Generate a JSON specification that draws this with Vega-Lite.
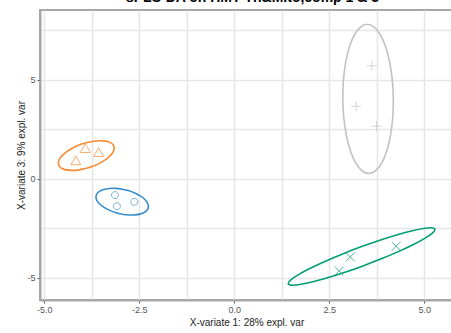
{
  "$schema": "https://vega.github.io/schema/vega-lite/v6.json",
  "width": 413,
  "height": 290,
  "autosize": {"type": "none"},
  "padding": {"left": 40, "top": 10, "right": -2, "bottom": 33},
  "background": "white",
  "title": {"text": "sPLS-DA on HMT Th&Mito,comp 1 & 3", "fontSize": 14, "fontWeight": "bold", "font": "Liberation Sans", "color": "#000000", "anchor": "middle", "dx": 6, "offset": 5},
  "config": {
    "view": {"stroke": "#a6a6a6", "strokeWidth": 2},
    "font": "Liberation Sans",
    "axis": {
      "grid": true,
      "gridColor": "#e6e6e6",
      "gridWidth": 1.5,
      "domainColor": "#a6a6a6",
      "domainWidth": 2,
      "tickColor": "#555555",
      "tickSize": 3,
      "labelColor": "#555555",
      "labelFontSize": 9,
      "titleFontSize": 10,
      "titleFontWeight": "normal",
      "titleColor": "#222222"
    }
  },
  "datasets": {
    "points": [
      {"group": "G2", "x": -4.17, "y": 0.84},
      {"group": "G2", "x": -3.92, "y": 1.46},
      {"group": "G2", "x": -3.57, "y": 1.26},
      {"group": "G1", "x": -3.14, "y": -0.84},
      {"group": "G1", "x": -3.09, "y": -1.40},
      {"group": "G1", "x": -2.63, "y": -1.18},
      {"group": "G3", "x": 3.62, "y": 5.69},
      {"group": "G3", "x": 3.21, "y": 3.65},
      {"group": "G3", "x": 3.74, "y": 2.64},
      {"group": "G4", "x": 2.76, "y": -4.67},
      {"group": "G4", "x": 3.05, "y": -3.96},
      {"group": "G4", "x": 4.26, "y": -3.42}
    ],
    "ellipses": [
      {"group": "G2", "i": 0, "x": -3.160, "y": 1.540},
      {"group": "G2", "i": 1, "x": -3.185, "y": 1.694},
      {"group": "G2", "i": 2, "x": -3.259, "y": 1.813},
      {"group": "G2", "i": 3, "x": -3.375, "y": 1.886},
      {"group": "G2", "i": 4, "x": -3.528, "y": 1.910},
      {"group": "G2", "i": 5, "x": -3.705, "y": 1.883},
      {"group": "G2", "i": 6, "x": -3.895, "y": 1.807},
      {"group": "G2", "i": 7, "x": -4.085, "y": 1.687},
      {"group": "G2", "i": 8, "x": -4.263, "y": 1.530},
      {"group": "G2", "i": 9, "x": -4.415, "y": 1.349},
      {"group": "G2", "i": 10, "x": -4.532, "y": 1.155},
      {"group": "G2", "i": 11, "x": -4.605, "y": 0.960},
      {"group": "G2", "i": 12, "x": -4.630, "y": 0.780},
      {"group": "G2", "i": 13, "x": -4.605, "y": 0.626},
      {"group": "G2", "i": 14, "x": -4.532, "y": 0.508},
      {"group": "G2", "i": 15, "x": -4.415, "y": 0.434},
      {"group": "G2", "i": 16, "x": -4.263, "y": 0.410},
      {"group": "G2", "i": 17, "x": -4.085, "y": 0.437},
      {"group": "G2", "i": 18, "x": -3.895, "y": 0.513},
      {"group": "G2", "i": 19, "x": -3.705, "y": 0.633},
      {"group": "G2", "i": 20, "x": -3.528, "y": 0.790},
      {"group": "G2", "i": 21, "x": -3.375, "y": 0.971},
      {"group": "G2", "i": 22, "x": -3.259, "y": 1.166},
      {"group": "G2", "i": 23, "x": -3.185, "y": 1.360},
      {"group": "G1", "i": 0, "x": -2.260, "y": -1.410},
      {"group": "G1", "i": 1, "x": -2.284, "y": -1.239},
      {"group": "G1", "i": 2, "x": -2.353, "y": -1.062},
      {"group": "G1", "i": 3, "x": -2.462, "y": -0.894},
      {"group": "G1", "i": 4, "x": -2.605, "y": -0.744},
      {"group": "G1", "i": 5, "x": -2.771, "y": -0.623},
      {"group": "G1", "i": 6, "x": -2.950, "y": -0.539},
      {"group": "G1", "i": 7, "x": -3.129, "y": -0.498},
      {"group": "G1", "i": 8, "x": -3.295, "y": -0.504},
      {"group": "G1", "i": 9, "x": -3.438, "y": -0.554},
      {"group": "G1", "i": 10, "x": -3.548, "y": -0.647},
      {"group": "G1", "i": 11, "x": -3.617, "y": -0.775},
      {"group": "G1", "i": 12, "x": -3.640, "y": -0.930},
      {"group": "G1", "i": 13, "x": -3.617, "y": -1.102},
      {"group": "G1", "i": 14, "x": -3.548, "y": -1.278},
      {"group": "G1", "i": 15, "x": -3.438, "y": -1.447},
      {"group": "G1", "i": 16, "x": -3.295, "y": -1.597},
      {"group": "G1", "i": 17, "x": -3.129, "y": -1.717},
      {"group": "G1", "i": 18, "x": -2.950, "y": -1.801},
      {"group": "G1", "i": 19, "x": -2.771, "y": -1.842},
      {"group": "G1", "i": 20, "x": -2.605, "y": -1.837},
      {"group": "G1", "i": 21, "x": -2.462, "y": -1.786},
      {"group": "G1", "i": 22, "x": -2.353, "y": -1.693},
      {"group": "G1", "i": 23, "x": -2.284, "y": -1.565},
      {"group": "G3", "i": 0, "x": 4.185, "y": 4.020},
      {"group": "G3", "i": 1, "x": 4.157, "y": 4.996},
      {"group": "G3", "i": 2, "x": 4.086, "y": 5.905},
      {"group": "G3", "i": 3, "x": 3.976, "y": 6.686},
      {"group": "G3", "i": 4, "x": 3.835, "y": 7.285},
      {"group": "G3", "i": 5, "x": 3.673, "y": 7.661},
      {"group": "G3", "i": 6, "x": 3.500, "y": 7.790},
      {"group": "G3", "i": 7, "x": 3.329, "y": 7.661},
      {"group": "G3", "i": 8, "x": 3.170, "y": 7.285},
      {"group": "G3", "i": 9, "x": 3.036, "y": 6.686},
      {"group": "G3", "i": 10, "x": 2.934, "y": 5.905},
      {"group": "G3", "i": 11, "x": 2.873, "y": 4.996},
      {"group": "G3", "i": 12, "x": 2.855, "y": 4.020},
      {"group": "G3", "i": 13, "x": 2.883, "y": 3.044},
      {"group": "G3", "i": 14, "x": 2.954, "y": 2.135},
      {"group": "G3", "i": 15, "x": 3.064, "y": 1.354},
      {"group": "G3", "i": 16, "x": 3.205, "y": 0.755},
      {"group": "G3", "i": 17, "x": 3.367, "y": 0.379},
      {"group": "G3", "i": 18, "x": 3.540, "y": 0.250},
      {"group": "G3", "i": 19, "x": 3.711, "y": 0.379},
      {"group": "G3", "i": 20, "x": 3.870, "y": 0.755},
      {"group": "G3", "i": 21, "x": 4.004, "y": 1.354},
      {"group": "G3", "i": 22, "x": 4.106, "y": 2.135},
      {"group": "G3", "i": 23, "x": 4.168, "y": 3.044},
      {"group": "G4", "i": 0, "x": 5.280, "y": -2.580},
      {"group": "G4", "i": 1, "x": 5.214, "y": -2.497},
      {"group": "G4", "i": 2, "x": 5.021, "y": -2.512},
      {"group": "G4", "i": 3, "x": 4.715, "y": -2.625},
      {"group": "G4", "i": 4, "x": 4.315, "y": -2.827},
      {"group": "G4", "i": 5, "x": 3.850, "y": -3.105},
      {"group": "G4", "i": 6, "x": 3.350, "y": -3.440},
      {"group": "G4", "i": 7, "x": 2.851, "y": -3.809},
      {"group": "G4", "i": 8, "x": 2.385, "y": -4.187},
      {"group": "G4", "i": 9, "x": 1.985, "y": -4.548},
      {"group": "G4", "i": 10, "x": 1.679, "y": -4.868},
      {"group": "G4", "i": 11, "x": 1.486, "y": -5.124},
      {"group": "G4", "i": 12, "x": 1.420, "y": -5.300},
      {"group": "G4", "i": 13, "x": 1.486, "y": -5.383},
      {"group": "G4", "i": 14, "x": 1.679, "y": -5.368},
      {"group": "G4", "i": 15, "x": 1.985, "y": -5.255},
      {"group": "G4", "i": 16, "x": 2.385, "y": -5.053},
      {"group": "G4", "i": 17, "x": 2.851, "y": -4.775},
      {"group": "G4", "i": 18, "x": 3.350, "y": -4.440},
      {"group": "G4", "i": 19, "x": 3.850, "y": -4.071},
      {"group": "G4", "i": 20, "x": 4.315, "y": -3.693},
      {"group": "G4", "i": 21, "x": 4.715, "y": -3.332},
      {"group": "G4", "i": 22, "x": 5.021, "y": -3.012},
      {"group": "G4", "i": 23, "x": 5.214, "y": -2.756}
    ]
  },
  "layer": [
    {
      "data": {"name": "ellipses"},
      "mark": {"type": "line", "interpolate": "cardinal-closed", "strokeWidth": 1.6},
      "encoding": {
        "x": {"field": "x", "type": "quantitative", "scale": {"domain": [-5.113, 5.755], "nice": false, "zero": false},
              "axis": {"orient": "bottom", "grid": true, "title": "X-variate 1: 28% expl. var", "values": [-5, -3.75, -2.5, -1.25, 0, 1.25, 2.5, 3.75, 5],
                       "labelExpr": "datum.value % 2.5 === 0 ? replace(format(datum.value, '.1f'), '\u2212', '-') : ''",
                       "tickOpacity": {"condition": {"test": "datum.value % 2.5 !== 0", "value": 0}, "value": 1},
                       "labelPadding": 2, "titlePadding": 3}},
        "y": {"field": "y", "type": "quantitative", "scale": {"domain": [-6.136, 8.510], "nice": false, "zero": false},
              "axis": {"grid": true, "title": "X-variate 3: 9% expl. var", "values": [-5, -2.5, 0, 2.5, 5, 7.5],
                       "labelExpr": "datum.value % 5 === 0 ? replace(format(datum.value, 'd'), '\u2212', '-') : ''",
                       "tickOpacity": {"condition": {"test": "datum.value % 5 !== 0", "value": 0}, "value": 1},
                       "labelPadding": 2, "titlePadding": 0}},
        "color": {"field": "group", "type": "nominal", "scale": {"domain": ["G1", "G2", "G3", "G4"], "range": ["#388ECC", "#F68B33", "#C2C2C2", "#009E73"]}, "legend": null},
        "detail": {"field": "group"},
        "order": {"field": "i", "type": "quantitative"}
      }
    },
    {
      "data": {"name": "points"},
      "mark": {"type": "point", "filled": false, "strokeWidth": 1, "opacity": 0.7, "size": 100},
      "encoding": {
        "x": {"field": "x", "type": "quantitative"},
        "y": {"field": "y", "type": "quantitative"},
        "color": {"field": "group", "type": "nominal", "legend": null},
        "shape": {"field": "group", "type": "nominal", "scale": {"domain": ["G1", "G2", "G3", "G4"], "range": ["M0.7,0A0.7,0.7,0,1,1,-0.7,0A0.7,0.7,0,1,1,0.7,0Z", "M0,-1.155L1,0.577L-1,0.577Z", "M-1,0L1,0M0,-1L0,1", "M-0.9,-0.9L0.9,0.9M-0.9,0.9L0.9,-0.9"]}, "legend": null}
      }
    }
  ]
}
